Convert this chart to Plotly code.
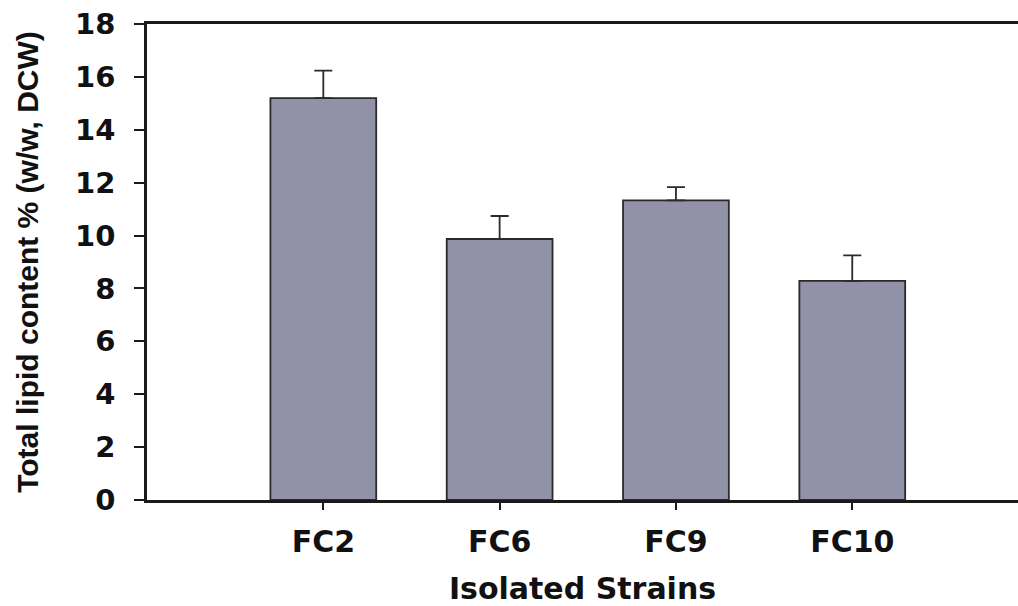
import plotly.graph_objects as go

strains = ["FC2", "FC6", "FC9", "FC10"]
lipid = [15.2, 9.87, 11.33, 8.29]
err_up = [1.04, 0.87, 0.5, 0.96]
y_ticks = [0, 2, 4, 6, 8, 10, 12, 14, 16, 18]

WIDE = "DejaVu Sans, Verdana, sans-serif"
NARROW = "Liberation Sans, Arial, sans-serif"
AX = "#1a1a1a"

fig = go.Figure(go.Bar(
    x=strains, y=lipid, width=0.6,
    marker=dict(color="#9191a8", line=dict(color="#2a2a2a", width=1.8)),
    error_y=dict(type="data", symmetric=False, array=err_up,
                 arrayminus=[0] * len(err_up), color="#2a2a2a",
                 thickness=1.8, width=9),
))

fig.update_layout(
    width=1018, height=606,
    margin=dict(l=147, r=0, t=24, b=106),
    plot_bgcolor="white", paper_bgcolor="white",
    font=dict(family=NARROW, size=22, color="#111"),
    showlegend=False,
    xaxis=dict(
        range=[-1, 3.94], showline=True, linecolor=AX, linewidth=2.5,
        mirror=True, ticks="outside", ticklen=7, tickwidth=1.5, tickcolor=AX,
        tickfont=dict(family=WIDE, size=30, weight="bold"),
        ticklabelstandoff=6,
        title=dict(text="Isolated Strains", standoff=24,
                   font=dict(family=WIDE, size=30, weight="bold")),
        showgrid=False, zeroline=False,
    ),
    yaxis=dict(
        range=[0, 18], tickvals=y_ticks, showline=True, linecolor=AX,
        linewidth=2.5, ticks="outside", ticklen=10, tickwidth=1.5, tickcolor=AX,
        tickfont=dict(family=WIDE, size=29, weight="bold"),
        ticklabelstandoff=13,
        title=dict(text="Total lipid content % (w/w, DCW)", standoff=28,
                   font=dict(family=NARROW, size=30, weight="bold")),
        showgrid=False, zeroline=False,
    ),
)

fig.write_html("out.html")
